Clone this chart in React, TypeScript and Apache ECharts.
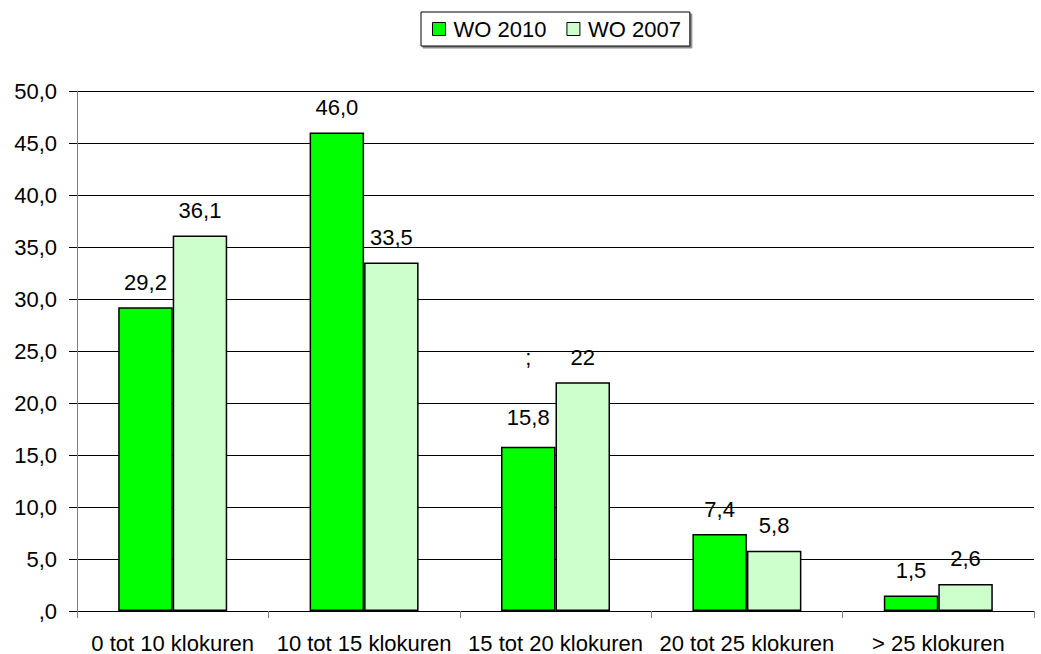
import React, { useEffect, useRef } from "react";
import * as echarts from "echarts";

const categories = [
  "0 tot 10 klokuren",
  "10 tot 15 klokuren",
  "15 tot 20 klokuren",
  "20 tot 25 klokuren",
  "> 25 klokuren",
];
const wo2010Values = [29.2, 46.0, 15.8, 7.4, 1.5];
const wo2010Labels = ["29,2", "46,0", ";\n\n15,8", "7,4", "1,5"];
const wo2007Values = [36.1, 33.5, 22, 5.8, 2.6];
const wo2007Labels = ["36,1", "33,5", "22", "5,8", "2,6"];
const seriesNames = ["WO 2010", "WO 2007"];

const FONT = '"Liberation Sans", Arial, sans-serif';

export default function App() {
  const ref = useRef<HTMLDivElement>(null);

  useEffect(() => {
    if (!ref.current) return;
    const chart = echarts.init(ref.current, null, { renderer: "svg" });

    const makeData = (vals: number[], labels: string[]) =>
      vals.map((v, i) => {
        const lbl = labels[i];
        const item: any = { value: v, label: { formatter: lbl } };
        if (lbl.indexOf("\n") >= 0) {
          item.label.lineHeight = 30;
        }
        return item;
      });

    const labelBase = {
      show: true,
      position: "top",
      distance: 14,
      color: "#000",
      fontSize: 22,
      fontFamily: FONT,
    };

    chart.setOption({
      animation: false,
      textStyle: { fontFamily: FONT },
      legend: {
        data: seriesNames,
        left: 421,
        top: 12,
        orient: "horizontal",
        icon: "rect",
        itemWidth: 13,
        itemHeight: 13,
        itemGap: 20,
        padding: [6, 9, 6, 11],
        borderColor: "#000",
        borderWidth: 1,
        backgroundColor: "#fff",
        shadowColor: "rgba(0,0,0,0.45)",
        shadowOffsetX: 2,
        shadowOffsetY: 2,
        shadowBlur: 0,
        textStyle: {
          fontSize: 22,
          color: "#000",
          fontFamily: FONT,
          padding: [0, 0, 0, 3],
        },
        itemStyle: { borderColor: "#000", borderWidth: 1 },
      },
      grid: { left: 77, right: 7, top: 91, bottom: 43, containLabel: false },
      xAxis: {
        type: "category",
        data: categories,
        axisLine: { lineStyle: { color: "#000", width: 1 } },
        axisTick: {
          show: true,
          alignWithLabel: false,
          length: 7,
          lineStyle: { color: "#808080" },
        },
        axisLabel: {
          interval: 0,
          fontSize: 22,
          color: "#000",
          fontFamily: FONT,
          margin: 21,
        },
      },
      yAxis: {
        type: "value",
        min: 0,
        max: 50,
        interval: 5,
        axisLine: { show: true, lineStyle: { color: "#808080", width: 1 } },
        axisTick: { show: true, length: 8, lineStyle: { color: "#000" } },
        axisLabel: {
          fontSize: 22,
          color: "#000",
          fontFamily: FONT,
          margin: 20,
          formatter: (v: number) =>
            v === 0 ? ",0" : v.toFixed(1).replace(".", ","),
        },
        splitLine: { show: true, lineStyle: { color: "#000", width: 1 } },
      },
      series: [
        {
          name: seriesNames[0],
          type: "bar",
          data: makeData(wo2010Values, wo2010Labels),
          barWidth: 54.5,
          barGap: "0%",
          itemStyle: { color: "#00FF00", borderColor: "#000", borderWidth: 1.5 },
          label: labelBase,
        },
        {
          name: seriesNames[1],
          type: "bar",
          data: makeData(wo2007Values, wo2007Labels),
          barWidth: 54.5,
          barGap: "0%",
          itemStyle: { color: "#CCFFCC", borderColor: "#000", borderWidth: 1.5 },
          label: labelBase,
        },
      ],
    });

    return () => chart.dispose();
  }, []);

  return (
    <div
      ref={ref}
      style={{
        position: "fixed",
        left: 0,
        top: 0,
        width: 1041,
        height: 654,
        background: "#fff",
      }}
    />
  );
}
